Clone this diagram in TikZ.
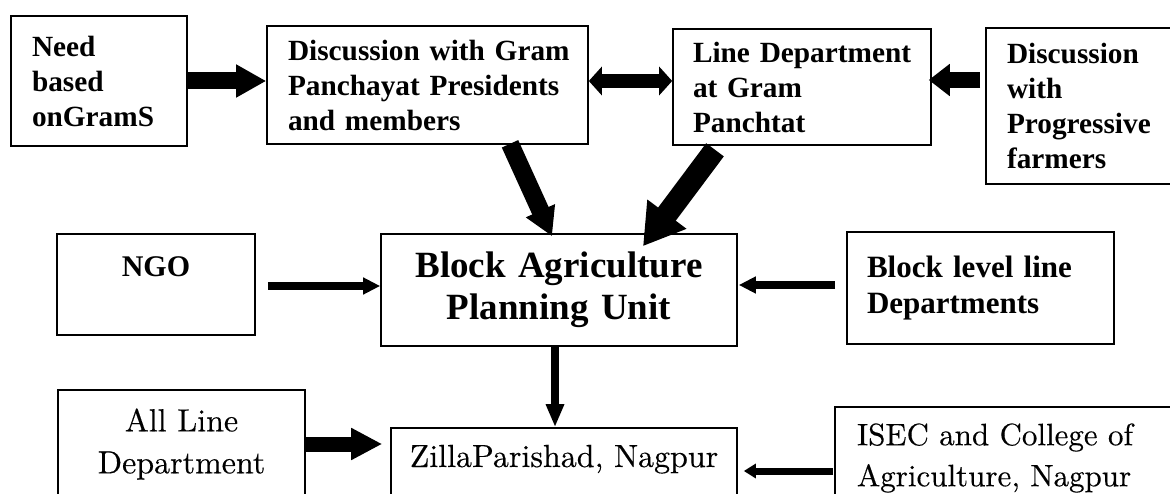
\documentclass[tikz,border=0pt]{standalone}
\usepackage{fontspec}
\newfontfamily\tnr{Liberation Serif}
\newfontfamily\lmh[FakeBold=0.3]{lmroman10-regular.otf}
\usetikzlibrary{arrows.meta,calc}
\newcommand\nb[1]{\mbox{#1}}
\begin{document}
\begin{tikzpicture}[x=1pt,y=-1pt,
  bx/.style={draw, line width=1.6pt, inner ysep=0pt},
  topfont/.style={font=\tnr\bfseries\fontsize{29.3}{35}\selectfont},
  lowfont/.style={font=\lmh\fontsize{32}{42}\selectfont},
  blk/.style={line width=#1}
]
\fill[white] (0,0) rectangle (1170,494);
\useasboundingbox (0,0) rectangle (1170,494);

% top row
\node[bx, topfont, align=left, text width=134pt, inner xsep=21pt, minimum height=130pt] (need) at (99,81) {\nb{Need}\\\nb{based}\\\nb{onGramS}};
\node[bx, topfont, align=left, text width=279pt, inner xsep=21pt, minimum height=118pt] (disc) at (427.5,85) {\nb{Discussion with Gram}\\\nb{Panchayat Presidents}\\\nb{and members}};
\node[bx, topfont, align=left, text width=218pt, inner xsep=20pt, minimum height=116pt] (line) at (802,87) {\nb{Line Department}\\\nb{at Gram}\\\nb{Panchtat}};
\node[bx, topfont, align=left, text width=150pt, inner xsep=21pt, minimum height=156pt] (prog) at (1082,106) {\nb{Discussion}\\\nb{with}\\\nb{Progressive}\\\nb{farmers}};

% middle row
\node[bx, font=\tnr\bfseries\fontsize{30}{35}\selectfont, inner xsep=0pt, minimum width=198pt, text height=43pt, text depth=58pt] (ngo) at (156,284.5) {NGO};
\node[bx, font=\tnr\bfseries\fontsize{37}{42}\selectfont, align=center, text width=336pt, inner xsep=10pt, minimum height=112pt] (bapu) at (559,290) {\nb{Block Agriculture}\\\nb{Planning Unit}};
\node[bx, font=\tnr\bfseries\fontsize{31}{36}\selectfont, align=left, text width=227pt, inner xsep=20pt, minimum height=112pt] (blu) at (980.5,288) {\nb{Block level line}\\\nb{Departments}};

% bottom row
\node[bx, lowfont, align=center, text width=227pt, inner xsep=10pt, minimum height=108pt] (all) at (181.5,444) {\nb{All Line}\\\nb{Department}};
\node[bx, lowfont, inner xsep=0pt, minimum width=346pt, text height=39pt, text depth=33pt] (zilla) at (564,464) {ZillaParishad, Nagpur};
\node[bx, font=\lmh\fontsize{31}{41}\selectfont, align=left, text width=299pt, inner xsep=22pt, minimum height=102pt] (isec) at (1006.5,458) {\nb{ISEC and College of}\\\nb{Agriculture, Nagpur}};

% connectors
\draw[blk=17pt, -{Triangle[width=31pt,length=30pt]}] (need.east) -- (need.east -| disc.west);
\draw[blk=14pt, {Triangle[width=28pt,length=13pt]}-{Triangle[width=28pt,length=13pt]}] ($(disc.east)+(0,-4)$) -- ($(disc.east -| line.west)+(0,-4)$);
\draw[blk=16pt, -{Triangle[width=31pt,length=21pt]}] ($(prog.west |- line.east)+(-5,-7)$) -- ($(line.east)+(-3,-7)$);
\draw[blk=18pt, -{Triangle[width=30pt,length=28pt]}] ($(disc.south)+(82.5,-1)$) -- ($(bapu.north)+(-7,3)$);
\draw[blk=22pt, -{Triangle[width=46pt,length=40pt]}] ($(line.south)+(-87,4)$) -- ($(bapu.north)+(84,13)$);
\draw[blk=8pt, -{Triangle[width=16pt,length=17pt]}] ($(ngo.east)+(12,1.5)$) -- ($(ngo.east -| bapu.west)+(0,1.5)$);
\draw[blk=8pt, -{Triangle[width=16pt,length=17pt]}] ($(blu.west)+(-11,-3)$) -- ($(blu.west -| bapu.east)+(1,-3)$);
\draw[blk=8.4pt, -{Triangle[width=17pt,length=23pt]}] ($(bapu.south)+(-4,0)$) -- ($(bapu.south |- zilla.north)+(-4,0)$);
\draw[blk=15pt, -{Triangle[width=30pt,length=31pt]}] (all.east) -- ($(all.east -| zilla.west)+(-8,0)$);
\draw[blk=7pt, -{Triangle[width=14pt,length=12pt]}] ($(isec.west)+(-1,13)$) -- ($(isec.west -| zilla.east)+(6,13)$);
\end{tikzpicture}
\end{document}
